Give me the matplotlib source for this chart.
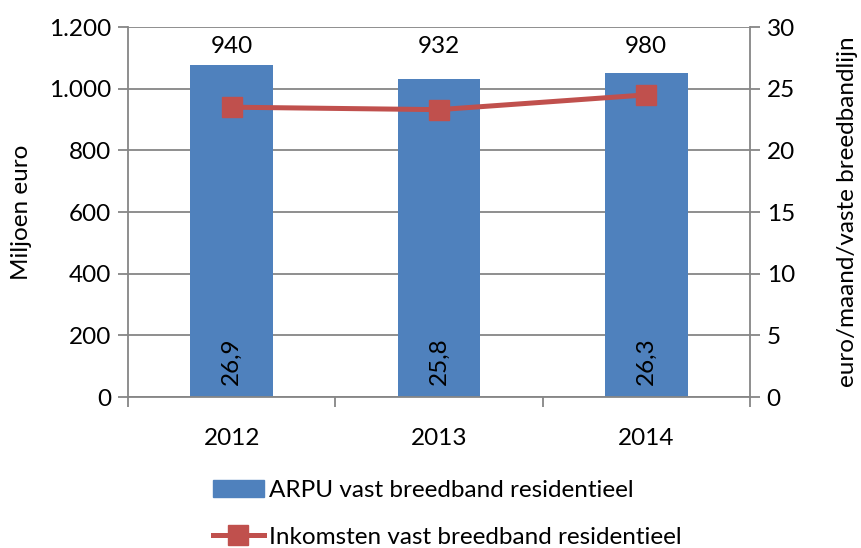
import matplotlib.pyplot as plt
from matplotlib.patches import Patch
from matplotlib.lines import Line2D

plt.rcParams['font.family'] = ['Lato', 'DejaVu Sans']

years = ["2012", "2013", "2014"]
arpu = [26.9, 25.8, 26.3]          # euro/maand/vaste breedbandlijn (right axis, bars)
inkomsten = [940, 932, 980]        # miljoen euro (left axis, line)
arpu_labels = ["26,9", "25,8", "26,3"]
inkomsten_labels = ["940", "932", "980"]

BAR = "#4F81BD"
LINE = "#C0504D"
GRID = "#868686"
FS = 17.5

fig = plt.figure(figsize=(8.62, 5.48), dpi=100)
ax = fig.add_axes([0.1485, 0.2755, 0.7215, 0.6752])
ax2 = ax.twinx()

x = list(range(len(years)))

# bars on right axis (drawn below the line)
ax2.bar(x, arpu, width=0.4, color=BAR, zorder=2)
ax2.set_ylim(0, 30)
ax2.set_yticks(range(0, 31, 5))
ax2.yaxis.grid(True, color=GRID, linewidth=1.3, zorder=0)
ax2.set_axisbelow(True)
for xi, lab in zip(x, arpu_labels):
    ax2.text(xi, 2.9, lab, rotation=90, ha="center", va="center",
             fontsize=FS, color="black", zorder=3)

# line on left axis
ax.set_zorder(ax2.get_zorder() + 1)
ax.patch.set_visible(False)
ax.plot(x, inkomsten, color=LINE, lw=3.6, marker="s", markersize=14, zorder=4)
ax.set_ylim(0, 1200)
ax.set_yticks(range(0, 1201, 200))
ax.set_yticklabels(["0", "200", "400", "600", "800", "1.000", "1.200"])
for xi, lab in zip(x, inkomsten_labels):
    ax.text(xi, 1137, lab, ha="center", va="center", fontsize=FS)

ax.set_xlim(-0.5, 2.5)
ax.set_xticks([-0.5, 0.5, 1.5, 2.5])
ax.set_xticklabels([])
ax.set_xticks(x, minor=True)
ax.set_xticklabels(years, minor=True)
ax.tick_params(axis="x", which="minor", length=0, pad=22, labelsize=FS)
ax.tick_params(axis="x", which="major", length=7, color=GRID, width=1.3)
ax.tick_params(axis="y", length=7, color=GRID, width=1.3, labelsize=FS, pad=5)
ax2.tick_params(axis="y", length=7, color=GRID, width=1.3, labelsize=FS, pad=5)

for a in (ax, ax2):
    for s in a.spines.values():
        s.set_visible(False)
for a, side in ((ax, "left"), (ax2, "right"), (ax, "bottom")):
    a.spines[side].set_visible(True)
    a.spines[side].set_color(GRID)
    a.spines[side].set_linewidth(1.3)

ax.set_ylabel("Miljoen euro", fontsize=FS, labelpad=12)
ax2.set_ylabel("euro/maand/vaste breedbandlijn", fontsize=FS, labelpad=30)

handles = [
    Patch(facecolor=BAR, edgecolor=BAR),
    Line2D([0], [0], color=LINE, lw=3.6, marker="s", markersize=14),
]
leg = fig.legend(handles, ["ARPU vast breedband residentieel",
                           "Inkomsten vast breedband residentieel"],
                 loc="upper left", frameon=False, fontsize=FS,
                 handlelength=2.1, handletextpad=0.2,
                 labelspacing=1.05, borderaxespad=0, borderpad=0)
leg.set_bbox_to_anchor((0.247, 0.124), transform=fig.transFigure)

fig.savefig("out.png", dpi=100)
